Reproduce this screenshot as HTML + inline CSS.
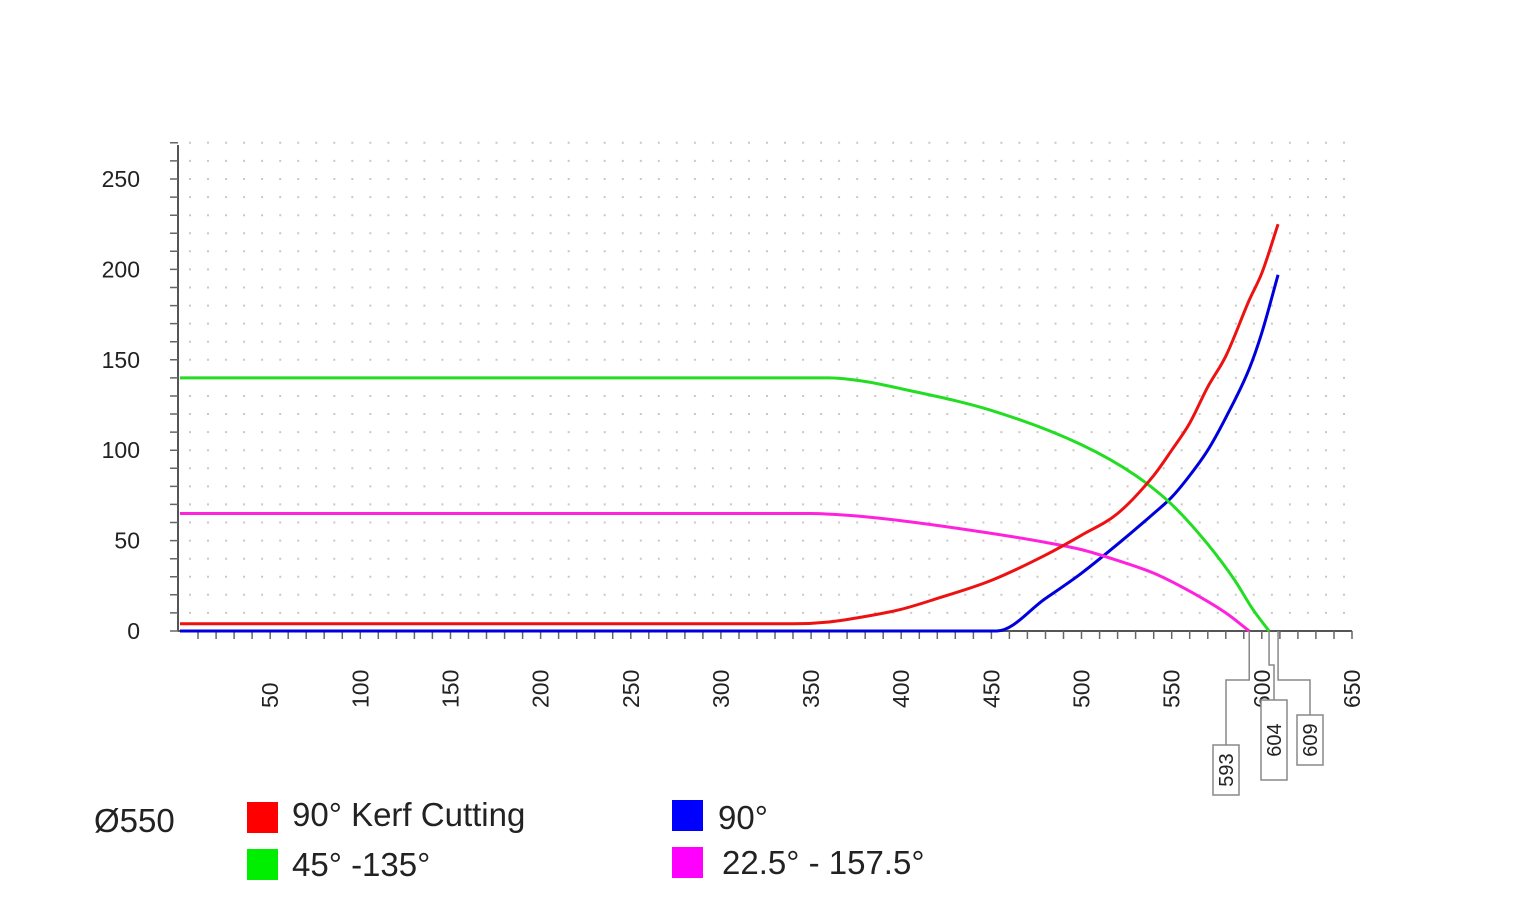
<!DOCTYPE html>
<html><head><meta charset="utf-8"><style>
html,body{margin:0;padding:0;background:#fff;}
svg{display:block;font-family:"Liberation Sans",Arial,sans-serif;}
</style></head><body>
<svg id="chart" width="1525" height="920" viewBox="0 0 1525 920" xmlns="http://www.w3.org/2000/svg">
<g id="grid"></g>
<g id="axes"></g>
<g id="series"></g>
<g id="callouts"></g>
<g font-size="33">
  <text x="94" y="832" fill="#222">Ø550</text>
  <rect x="247" y="802" width="31" height="31" fill="#ff0000"/>
  <text x="292" y="826" fill="#222">90° Kerf Cutting</text>
  <rect x="247" y="849" width="31" height="31" fill="#00ee00"/>
  <text x="292" y="876" fill="#222">45° -135°</text>
  <rect x="672" y="800" width="31" height="31" fill="#0000ff"/>
  <text x="718" y="829" fill="#222">90°</text>
  <rect x="672" y="847" width="31" height="31" fill="#ff00ff"/>
  <text x="722" y="874" fill="#222">22.5° - 157.5°</text>
</g>
</svg>
<script>
const xTicks=[50,100,150,200,250,300,350,400,450,500,550,600,650];
const yTicks=[0,50,100,150,200,250];
const redX=[0,340,360,380,400,420,450,480,500,520,540,550,560,570,580,593,600,609];
const redY=[4,4,5,8,12,18,28,42,53,65,86,100,115,135,152,183,198,225];
const greenX=[0,360,380,400,450,500,530,550,570,585,595,604];
const greenY=[140,140,138,134,122,103,86,70,48,28,12,0];
const blueX=[0,453,480,500,520,540,550,560,570,580,593,600,609];
const blueY=[0,0,18,32,48,65,74,86,100,118,145,165,197];
const magX=[0,350,370,400,450,480,500,520,540,560,580,593];
const magY=[65,65,64,61,54,49,45,39,32,22,10,0];
const calloutVals=[593,604,609];

const NS="http://www.w3.org/2000/svg";
const X0=180,PX=(1352-180)/650,Y0=631,PY=(631-179)/250;
const sx=v=>X0+v*PX, sy=v=>Y0-v*PY;
function mk(t,a,p){const e=document.createElementNS(NS,t);for(const k in a)e.setAttribute(k,a[k]);p.appendChild(e);return e;}
const grid=document.getElementById('grid'),axes=document.getElementById('axes'),ser=document.getElementById('series'),cal=document.getElementById('callouts');
let d='';
for(let gx=5;gx<=650;gx+=10)for(let gy=10;gy<=270;gy+=10){d+=`M${sx(gx).toFixed(1)} ${sy(gy).toFixed(1)}h2`;}
const gp=mk('path',{d:d,stroke:'#c8c8c8','stroke-width':2,fill:'none'},grid);


const ya=mk('line',{x1:178,y1:145,x2:178,y2:Y0,stroke:'#555','stroke-width':2},axes);


const xa=mk('line',{x1:178,y1:Y0,x2:sx(650),y2:Y0,stroke:'#555','stroke-width':2},axes);


let td='';
for(let v=0;v<=270;v+=10)td+=`M170 ${sy(v).toFixed(1)}h8`;
for(let v=10;v<=650;v+=10)td+=`M${sx(v).toFixed(1)} ${Y0}v8`;
const tk=mk('path',{d:td,stroke:'#666','stroke-width':1.5},axes);


yTicks.forEach(v=>{const t=mk('text',{x:140,y:sy(v)+8,'text-anchor':'end','font-size':23,fill:'#222'},axes);t.textContent=v;

});
xTicks.forEach(v=>{const t=mk('text',{x:0,y:0,'text-anchor':'start','font-size':23,fill:'#222',transform:`translate(${sx(v)+8},708) rotate(-90)`},axes);t.textContent=v;

});
// monotone cubic (Fritsch-Carlson)
function path(xs,ys){const n=xs.length,X=xs.map(sx),Y=ys.map(sy);const dl=[],m=[];
for(let i=0;i<n-1;i++)dl.push((Y[i+1]-Y[i])/(X[i+1]-X[i]));
m[0]=dl[0];m[n-1]=dl[n-2];
for(let i=1;i<n-1;i++){m[i]=(dl[i-1]*dl[i]<=0)?0:(dl[i-1]+dl[i])/2;}
for(let i=0;i<n-1;i++){if(dl[i]===0){m[i]=0;m[i+1]=0;continue;}const a=m[i]/dl[i],b=m[i+1]/dl[i],s=a*a+b*b;if(s>9){const t=3/Math.sqrt(s);m[i]=t*a*dl[i];m[i+1]=t*b*dl[i];}}
let s=`M${X[0]} ${Y[0]}`;
for(let i=0;i<n-1;i++){const h=(X[i+1]-X[i])/3;s+=`C${X[i]+h} ${Y[i]+m[i]*h} ${X[i+1]-h} ${Y[i+1]-m[i+1]*h} ${X[i+1]} ${Y[i+1]}`;}
return s;}
[[blueX,blueY,'#0000dd','series-90'],[magX,magY,'#ff22dd','series-22-5-157-5'],[greenX,greenY,'#22dd22','series-45-135'],[redX,redY,'#ee1111','series-90-kerf']].forEach(s=>{
const p=mk('path',{d:path(s[0],s[1]),stroke:s[2],'stroke-width':3,fill:'none'},ser);

});
const boxes=[[1226,680,745,795],[1274,665,700,780],[1310,680,715,765]];
calloutVals.forEach((v,i)=>{const b=boxes[i],x=sx(v);
const l=mk('path',{d:`M${x} ${Y0}V${b[1]}H${b[0]}V${b[2]}`,stroke:'#888','stroke-width':1.5,fill:'none'},cal);


const r=mk('rect',{x:b[0]-13,y:b[2],width:26,height:b[3]-b[2],fill:'#fff',stroke:'#888','stroke-width':1.5},cal);


const t=mk('text',{x:0,y:0,'text-anchor':'middle','font-size':20,fill:'#222',transform:`translate(${b[0]+7},${(b[2]+b[3])/2}) rotate(-90)`},cal);t.textContent=v;

});
</script>
</body></html>
